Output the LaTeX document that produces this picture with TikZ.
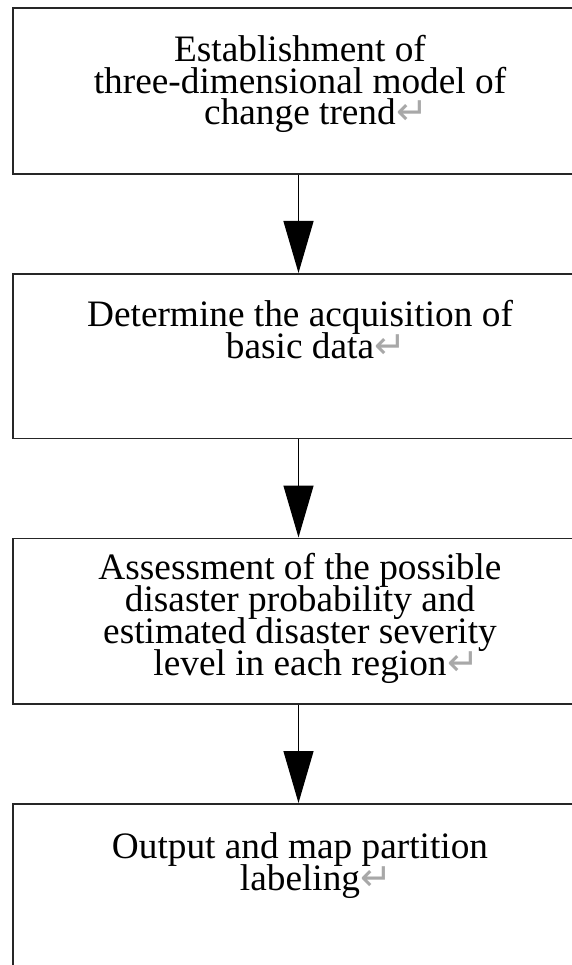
\documentclass[tikz,border=0pt]{standalone}
\usepackage{fontspec}
\setmainfont{Liberation Serif}
\newfontfamily\symfont{DejaVu Sans}
\usetikzlibrary{arrows.meta}
\newcommand{\parmark}{\rlap{\hspace{0.5pt}\textcolor{retgray}{\symfont\fontsize{38}{38}\selectfont ↵}}}
\newcommand{\stepfont}{\fontsize{37.3}{31.7}\selectfont\lineskiplimit=-100pt\relax\lineskip=0pt\relax}
\definecolor{retgray}{HTML}{A8A8A8}
\definecolor{boxline}{HTML}{262626}
\begin{document}
\begin{tikzpicture}[x=1pt,y=1pt,
  stepbox/.style={draw=boxline,line width=1.7pt,minimum width=570.4pt,inner sep=0pt,anchor=north},
  steptext/.style={align=center,anchor=base,inner sep=0pt,font=\stepfont},
  flow/.style={line width=1.3pt,-{Triangle[width=30pt,length=52pt]}}]
\useasboundingbox (0,0) rectangle (571,-965);
\fill[white] (0,0) rectangle (571,-965);
\node[stepbox,minimum height=166pt] (b1) at (298.5,-7) {};
\node[stepbox,minimum height=164.5pt] (b2) at (298.5,-273) {};
\node[stepbox,minimum height=165.5pt] (b3) at (298.5,-537.5) {};
\node[stepbox,minimum height=170pt] (b4) at (298.5,-803) {};
\node[steptext] (t1) at (300,-125) {Establishment of\\three-dimensional model of\\change trend\parmark};
\node[steptext] (t2) at (300,-358.4) {Determine the acquisition of\\basic data\parmark};
\node[steptext] (t3) at (300,-675) {Assessment of the possible\\disaster probability and\\estimated disaster severity\\level in each region\parmark};
\node[steptext] (t4) at (300,-890.5) {Output and map partition\\labeling\parmark};
\draw[flow] (b1.south) -- (b2.north);
\draw[flow] (b2.south) -- (b3.north);
\draw[flow] (b3.south) -- (b4.north);
\end{tikzpicture}
\end{document}
